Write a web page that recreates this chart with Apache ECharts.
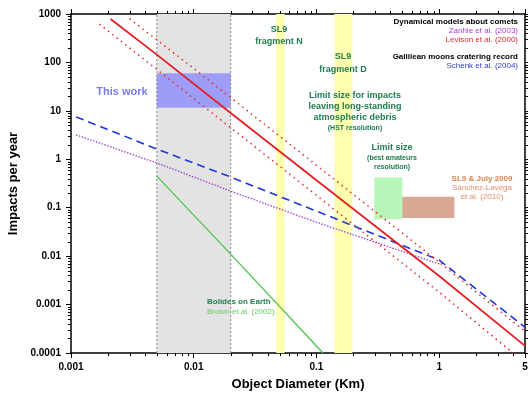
<!DOCTYPE html>
<html><head><meta charset="utf-8">
<script src="https://cdn.jsdelivr.net/npm/echarts@6/dist/echarts.min.js"></script>
<style>html,body{margin:0;padding:0;background:#fff}#c{width:528px;height:393px}</style>
</head><body><div id="c"></div>
<script>
// ---- data ----
const xTickLabels = ['0.001', '0.01', '0.1', '1', '5'];
const yTickLabels = ['0.0001', '0.001', '0.01', '0.1', '1', '10', '100', '1000'];

const levisonX = [0.0021, 0.005, 0.02, 0.1, 1, 5];
const levisonY = [790, 145, 9.0, 0.37, 0.0039, 0.00014];
const levisonUpX = [0.003, 0.01, 0.1, 1, 5];
const levisonUpY = [800, 75, 0.75, 0.0075, 0.00028];
const levisonLoX = [0.0017, 0.01, 0.1, 1, 4];
const levisonLoY = [620, 18, 0.18, 0.0018, 0.0001];
const schenkX = [0.0011, 0.005, 0.02, 0.1, 1, 5];
const schenkY = [7.5, 1.63, 0.43, 0.085, 0.0083, 0.00034];
const zahnleX = [0.0011, 0.005, 0.02, 0.1, 1];
const zahnleY = [3.2, 0.84, 0.22, 0.05, 0.0069];
const brownX = [0.005, 0.02, 0.113];
const brownY = [0.45, 0.011, 0.0001];

const yRange = [0.0001, 1000];
const xRange = [0.001, 5];
const grayBand = [0.005, 0.02];
const fragN = [0.047, 0.055];
const fragD = [0.14, 0.196];
const thisWorkX = [0.005, 0.02], thisWorkY = [11.6, 60];
const amateurX = [0.296, 0.50], amateurY = [0.058, 0.42];
const sl9X = [0.50, 1.33], sl9Y = [0.061, 0.169];

// ---- helpers ----
const pairs = (xs, ys) => xs.map((x, i) => [x, ys[i]]);
const fmt = labels => v => labels.find(s => Math.abs(Math.log10(+s) - Math.log10(v)) < 1e-6) || '';
const FONT = '"Liberation Sans", Arial, Helvetica, sans-serif';
const DG = '#1e7d4e';

const minorX = [], minorY = [];
for (let e = -3; e <= 0; e++) for (let m = 2; m <= 9; m++) { const v = m * Math.pow(10, e); if (v < xRange[1]) minorX.push(v); }
for (let e = -4; e <= 2; e++) for (let m = 2; m <= 9; m++) minorY.push(m * Math.pow(10, e));

const chart = echarts.init(document.getElementById('c'), null, {renderer: 'canvas'});

const axisCommon = {
  type: 'log', logBase: 10,
  splitLine: {show: false},
  axisLine: {onZero: false, lineStyle: {color: '#000', width: 1.5}},
  axisTick: {length: 5, lineStyle: {color: '#000', width: 1}},
};

function txt(text, x, y, size, color, bold, align) {
  return {type: 'text', z: 100, style: {
    text, x, y, fill: color,
    font: (bold ? 'bold ' : '') + size + 'px ' + FONT,
    textAlign: align || 'center', align: align || 'center',
    textVerticalAlign: 'middle', verticalAlign: 'middle'
  }};
}

const vline = x => ({
  type: 'line', data: [[x, yRange[0]], [x, yRange[1]]], showSymbol: false, silent: true, z: 2,
  lineStyle: {color: '#8a8a8a', width: 1, type: [2, 2]}
});

chart.setOption({
  animation: false,
  backgroundColor: '#fff',
  grid: {left: 71, right: 3, top: 14, bottom: 40, containLabel: false, outerBoundsMode: 'none'},
  xAxis: [
    Object.assign({}, axisCommon, {
      min: xRange[0], max: xRange[1], position: 'bottom', splitNumber: 4,
      axisLabel: {formatter: fmt(xTickLabels), color: '#000', fontWeight: 'bold', fontSize: 10, fontFamily: FONT, margin: 9, showMaxLabel: true, showMinLabel: true},
      name: 'Object Diameter (Km)', nameLocation: 'middle', nameGap: 25,
      nameTextStyle: {color: '#000', fontWeight: 'bold', fontSize: 13, fontFamily: FONT}
    }),
    Object.assign({}, axisCommon, {
      min: xRange[0], max: xRange[1], position: 'top', splitNumber: 4, axisLabel: {show: false}
    })
  ],
  yAxis: [
    Object.assign({}, axisCommon, {
      min: yRange[0], max: yRange[1], position: 'left', splitNumber: 7,
      axisLabel: {formatter: fmt(yTickLabels), color: '#000', fontWeight: 'bold', fontSize: 10, fontFamily: FONT, margin: 10},
      name: 'Impacts per year', nameLocation: 'middle', nameGap: 51,
      nameTextStyle: {color: '#000', fontWeight: 'bold', fontSize: 13, fontFamily: FONT}
    }),
    Object.assign({}, axisCommon, {
      min: yRange[0], max: yRange[1], position: 'right', splitNumber: 7, axisLabel: {show: false}
    })
  ],
  series: [
    {
      type: 'line', data: [], z: 1, silent: true,
      markArea: {
        silent: true,
        data: [
          [{xAxis: grayBand[0], itemStyle: {color: '#e3e3e3'}}, {xAxis: grayBand[1]}],
          [{xAxis: fragN[0], itemStyle: {color: '#ffffb0'}}, {xAxis: fragN[1]}],
          [{xAxis: fragD[0], itemStyle: {color: '#ffffb0'}}, {xAxis: fragD[1]}],
          [{xAxis: thisWorkX[0], yAxis: thisWorkY[0], itemStyle: {color: '#9d9df7'}}, {xAxis: thisWorkX[1], yAxis: thisWorkY[1]}],
          [{xAxis: amateurX[0], yAxis: amateurY[0], itemStyle: {color: '#b8f5b8'}}, {xAxis: amateurX[1], yAxis: amateurY[1]}],
          [{xAxis: sl9X[0], yAxis: sl9Y[0], itemStyle: {color: '#d9a792'}}, {xAxis: sl9X[1], yAxis: sl9Y[1]}]
        ]
      }
    },
    vline(grayBand[0]),
    vline(grayBand[1]),
    {type: 'line', data: pairs(brownX, brownY), showSymbol: false, z: 3, lineStyle: {color: '#4cc44c', width: 1.3}},
    {type: 'line', data: pairs(zahnleX, zahnleY), showSymbol: false, z: 3, lineStyle: {color: '#a040c8', width: 1.3, type: [1.5, 1.5]}},
    {type: 'line', data: pairs(schenkX, schenkY), showSymbol: false, z: 3, lineStyle: {color: '#1f35dc', width: 1.6, type: [8, 5]}},
    {type: 'line', data: pairs(levisonUpX, levisonUpY), showSymbol: false, z: 3, lineStyle: {color: '#e8262a', width: 1.5, type: [1.5, 4]}},
    {type: 'line', data: pairs(levisonLoX, levisonLoY), showSymbol: false, z: 3, lineStyle: {color: '#e8262a', width: 1.5, type: [1.5, 4]}},
    {type: 'line', data: pairs(levisonX, levisonY), showSymbol: false, z: 4, lineStyle: {color: '#e51e25', width: 1.8}},
    {
      type: 'custom', silent: true, clip: false, z: 10,
      data: minorX.map(v => [v, 1, 0]).concat(minorY.map(v => [0.01, v, 1])),
      encode: {x: 0, y: 1},
      renderItem: function (params, api) {
        const cs = params.coordSys;
        const st = {stroke: '#000', lineWidth: 1};
        if (api.value(2) === 0) {
          const x = Math.round(api.coord([api.value(0), 1])[0]) + 0.5;
          const b = cs.y + cs.height;
          return {type: 'group', children: [
            {type: 'line', shape: {x1: x, y1: b, x2: x, y2: b + 3}, style: st},
            {type: 'line', shape: {x1: x, y1: cs.y, x2: x, y2: cs.y - 3}, style: st}
          ]};
        } else {
          const y = Math.round(api.coord([0.01, api.value(1)])[1]) + 0.5;
          const r = cs.x + cs.width;
          return {type: 'group', children: [
            {type: 'line', shape: {x1: cs.x, y1: y, x2: cs.x - 3, y2: y}, style: st},
            {type: 'line', shape: {x1: r, y1: y, x2: r + 3, y2: y}, style: st}
          ]};
        }
      }
    }
  ],
  graphic: [
    txt('Dynamical models about comets', 518, 22, 8, '#000', true, 'right'),
    txt('Zanhle et al. (2003)', 518, 31, 8, '#b040e0', false, 'right'),
    txt('Levison et al. (2000)', 518, 40, 8, '#e02828', false, 'right'),
    txt('Gallilean moons cratering record', 518, 57, 8, '#000', true, 'right'),
    txt('Schenk et al. (2004)', 518, 66, 8, '#2b3bd6', false, 'right'),
    txt('SL9', 279, 30, 9, DG, true),
    txt('fragment N', 279, 42, 9, DG, true),
    txt('SL9', 343, 57, 9, DG, true),
    txt('fragment D', 343, 70, 9, DG, true),
    txt('Limit size for impacts', 355, 96, 9, DG, true),
    txt('leaving long-standing', 355, 107, 9, DG, true),
    txt('atmospheric debris', 355, 118, 9, DG, true),
    txt('(HST resolution)', 355, 128, 7, DG, true),
    txt('Limit size', 392, 148, 9, DG, true),
    txt('(best amateurs', 392, 158, 7, DG, true),
    txt('resolution)', 392, 167, 7, DG, true),
    txt('SL9 & July 2009', 482, 179, 8, '#d8844e', true),
    txt('Sánchez-Lavega', 482, 188, 8, '#e0906a', false),
    txt('et al. (2010)', 482, 197, 8, '#e0906a', false),
    txt('This work', 122, 92, 11, '#7b7bf0', true),
    txt('Bolides on Earth', 207, 302, 8, DG, true, 'left'),
    txt('Brown et al. (2002)', 207, 312, 8, '#66cc66', false, 'left')
  ]
});
</script>
</body></html>
